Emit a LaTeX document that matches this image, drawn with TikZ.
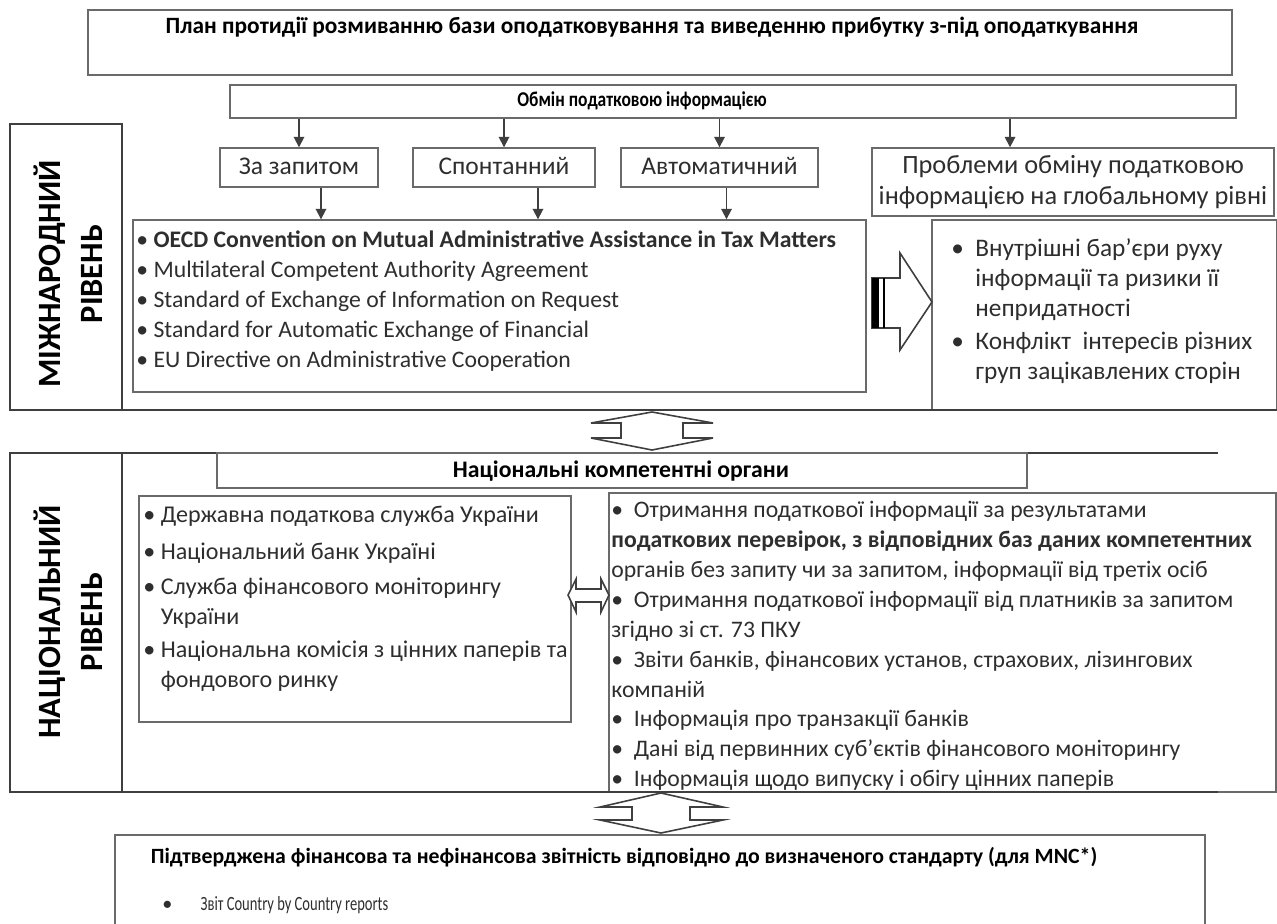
\documentclass[tikz,border=0pt]{standalone}
\usepackage{fontspec}
\setmainfont{Carlito}
\usetikzlibrary{arrows.meta}
\definecolor{linegray}{HTML}{3F3F3F}
\definecolor{framegray}{HTML}{6A6A6A}
\definecolor{textgray}{HTML}{2E2E2E}

\begin{document}
\begin{tikzpicture}[
    x=0.02cm, y=-0.02cm,
    box/.style={draw=framegray, line width=0.8pt, inner sep=0pt},
    frame/.style={draw=linegray, line width=1.3pt, inner sep=0pt},
    txt/.style={font=\fontsize{13.5}{17}\selectfont, text=textgray, inner sep=0pt},
    head/.style={font=\fontsize{13.5}{15}\selectfont\bfseries, inner sep=0pt},
    lvl/.style={font=\fontsize{18.5}{24}\selectfont\bfseries, rotate=90, align=center, inner sep=0pt},
    arrow/.style={-{Triangle[length=6pt, width=6pt]}, line width=1pt, draw=linegray},
    rule/.style={line width=1.6pt, draw=linegray},
    fat/.style={draw=linegray, line width=0.9pt, fill=white, line join=miter},
]
\useasboundingbox (0,0) rectangle (1277,923);

% Plan and exchange
\node[box, minimum width=22.88cm, minimum height=1.3cm] (plan) at (660,42.5) {};
\node[head, font=\fontsize{13.3}{15}\selectfont\bfseries] (plan_t) at (652,27) {План протидії розмиванню бази оподатковування та виведенню прибутку з-під оподаткування};
\node[box, minimum width=20.12cm, minimum height=0.66cm] (xchg) at (733,101.5) {};
\node[head, font=\fontsize{12}{14}\selectfont\bfseries] (xchg_t) at (642,101) {\scalebox{0.83}[1]{Обмін податковою інформацією}};

% International level
\node[frame, minimum width=2.24cm, minimum height=5.72cm] (intl) at (66,267) {};
\node[lvl] (intl_t) at (68,274) {МІЖНАРОДНИЙ\\РІВЕНЬ};

\foreach \n/\xc/\w/\t in {zap/299/3.16/За запитом, spon/504/3.64/Спонтанний, auto/719.5/3.94/Автоматичний} {
    \node[box, txt, font=\fontsize{14.5}{15}\selectfont, text height=10pt, text depth=2pt, minimum width=\w cm, minimum height=0.78cm] (\n) at (\xc,167.5) {\t};
    \draw[arrow] (xchg.south -| \n) -- (\n);
}
\node[box, txt, font=\fontsize{15}{18}\selectfont, align=center, minimum width=8.04cm, minimum height=1.36cm] (probl) at (1073,182) {Проблеми обміну податковою\\інформацією на глобальному рівні};
\draw[arrow] ([xshift=-1.26cm]probl.north |- xchg.south) -- ([xshift=-1.26cm]probl.north);

\node[box, minimum width=14.66cm, minimum height=3.44cm] (oecd) at (499.5,306) {};
\node[txt, anchor=west, align=left] (oecd_t) at (136,301) {%
\textbullet\ \textbf{OECD Convention on Mutual Administrative Assistance in Tax Matters}\\
\textbullet\ Multilateral Competent Authority Agreement\\
\textbullet\ Standard of Exchange of Information on Request\\
\textbullet\ Standard for Automatic Exchange of Financial\\
\textbullet\ EU Directive on Administrative Cooperation};
\foreach \n/\dx in {zap/0.44, spon/0.68, auto/0.14}
    \draw[arrow] ([xshift=\dx cm]\n.south) -- ([xshift=\dx cm]\n.south |- oecd.north);

\node[box, minimum width=6.9cm, minimum height=3.8cm] (barr) at (1104.5,315) {};
\node[txt, anchor=west, align=left, font=\fontsize{14.4}{17}\selectfont] (barr_t) at (951,311) {%
\textbullet\ \ Внутрішні бар’єри руху\\
\phantom{\textbullet\ \ }інформації та ризики її\\
\phantom{\textbullet\ \ }непридатності\\[2pt]
\textbullet\ \ Конфлікт\ \ інтересів різних\\
\phantom{\textbullet\ \ }груп зацікавлених сторін};

% block arrow to problems
\draw[fat] (872,278) -- (900,278) -- (900,253) -- (932,302) -- (900,350) -- (900,328) -- (872,328) -- cycle;
\fill[black] (872,278) rectangle (879,328);
\draw[black, line width=1.2pt] (884,278) -- (884,328);

\draw[rule] (10,410) -- (1277,410);
\draw[fat] (652,412) -- (713,423) -- (683,423) -- (683,438) -- (713,438) -- (652,450)
    -- (591,438) -- (621,438) -- (621,423) -- (591,423) -- cycle;

% National level
\draw[rule] (10,453) -- (1218,453);
\node[frame, minimum width=2.24cm, minimum height=6.78cm] (natl) at (66,622.5) {};
\node[lvl] (natl_t) at (68,622) {НАЦІОНАЛЬНИЙ\\РІВЕНЬ};
\node[box, minimum width=16.2cm, minimum height=0.7cm] (organs) at (622,470.5) {};
\node[head] (organs_t) at (621,471) {Національні компетентні органи};

\node[box, minimum width=8.64cm, minimum height=4.52cm] (bodies) at (355,609) {};
\node[txt, anchor=west, align=left, font=\fontsize{13.7}{17}\selectfont] (bodies_t) at (143,599) {%
\textbullet\ Державна податкова служба України\\[4pt]
\textbullet\ Національний банк Україні\\[3pt]
\textbullet\ Служба фінансового моніторингу\\
\phantom{\textbullet\ }України\\[2pt]
\textbullet\ Національна комісія з цінних паперів та\\
\phantom{\textbullet\ }фондового ринку};

\node[box, minimum width=13.34cm, minimum height=5.98cm] (sources) at (942.5,642.5) {};
\node[txt, anchor=west, align=left] (sources_t) at (611,646) {%
\textbullet\ \ Отримання податкової інформації за результатами\\
\textbf{податкових перевірок, з відповідних баз даних компетентних}\\
органів без запиту чи за запитом, інформації від третіх осіб\\
\textbullet\ \ Отримання податкової інформації від платників за запитом\\
згідно зі ст. 73 ПКУ\\
\textbullet\ \ Звіти банків, фінансових установ, страхових, лізингових\\
компаній\\
\textbullet\ \ Інформація про транзакції банків\\
\textbullet\ \ Дані від первинних суб’єктів фінансового моніторингу\\
\textbullet\ \ Інформація щодо випуску і обігу цінних паперів};

\draw[fat] (568,595) -- (576,579) -- (576,589) -- (601,589) -- (601,579) -- (609,595)
    -- (601,612) -- (601,602) -- (576,602) -- (576,612) -- cycle;

\draw[rule] (10,792) -- (1218,792);
\draw[fat] (661,793) -- (723,807) -- (690,807) -- (690,820) -- (723,820) -- (661,833)
    -- (600,820) -- (632,820) -- (632,807) -- (600,807) -- cycle;

% Reporting
\draw[box] (115,960) -- (115,835) -- (1205,835) -- (1205,960);
\node[head, font=\fontsize{12.4}{14}\selectfont\bfseries] (report_t) at (624,857) {Підтверджена фінансова та нефінансова звітність відповідно до визначеного стандарту (для MNC*)};
\node[txt, anchor=west, font=\fontsize{11.5}{13}\selectfont] (report_i) at (162,905) {\textbullet\hspace{1.4em}\scalebox{0.72}[1]{Звіт Country by Country reports}};

\end{tikzpicture}
\end{document}
